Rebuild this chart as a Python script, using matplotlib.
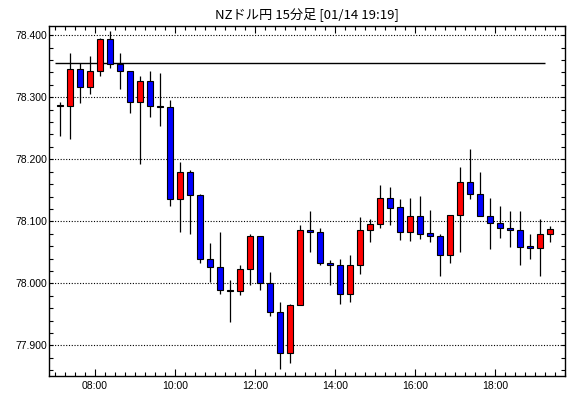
import matplotlib
matplotlib.use("Agg")
import matplotlib.pyplot as plt
from matplotlib.ticker import MultipleLocator, FixedLocator

# 15分足 NZD/JPY
times = ["07:00", "07:15", "07:30", "07:45", "08:00", "08:15", "08:30", "08:45",
         "09:00", "09:15", "09:30", "09:45", "10:00", "10:15", "10:30", "10:45",
         "11:00", "11:15", "11:30", "11:45", "12:00", "12:15", "12:30", "12:45",
         "13:00", "13:15", "13:30", "13:45", "14:00", "14:15", "14:30", "14:45",
         "15:00", "15:15", "15:30", "15:45", "16:00", "16:15", "16:30", "16:45",
         "17:00", "17:15", "17:30", "17:45", "18:00", "18:15", "18:30", "18:45",
         "19:00", "19:15"]
opens = [78.286, 78.286, 78.345, 78.317, 78.342, 78.394, 78.354, 78.342,
         78.292, 78.326, 78.285, 78.284, 78.136, 78.179, 78.142, 78.039,
         78.026, 77.987, 77.987, 78.023, 78.076, 78.000, 77.954, 77.887,
         77.965, 78.086, 78.082, 78.032, 78.029, 77.982, 78.029, 78.086,
         78.095, 78.137, 78.123, 78.083, 78.108, 78.081, 78.076, 78.045,
         78.110, 78.163, 78.144, 78.108, 78.098, 78.090, 78.086, 78.060,
         78.057, 78.079]
highs = [78.293, 78.371, 78.356, 78.367, 78.395, 78.407, 78.371, 78.342,
         78.334, 78.343, 78.339, 78.295, 78.196, 78.182, 78.144, 78.065,
         78.083, 78.005, 78.029, 78.079, 78.076, 78.019, 77.970, 77.967,
         78.094, 78.117, 78.089, 78.037, 78.039, 78.045, 78.107, 78.103,
         78.158, 78.155, 78.136, 78.137, 78.141, 78.118, 78.079, 78.110,
         78.187, 78.216, 78.180, 78.137, 78.124, 78.116, 78.116, 78.079,
         78.103, 78.092]
lows = [78.237, 78.233, 78.291, 78.306, 78.334, 78.348, 78.313, 78.274,
        78.192, 78.269, 78.254, 78.124, 78.082, 78.080, 78.033, 78.002,
        77.983, 77.937, 77.981, 77.998, 77.990, 77.948, 77.862, 77.871,
        77.965, 78.051, 78.029, 77.998, 77.966, 77.970, 78.015, 78.066,
        78.090, 78.094, 78.070, 78.068, 78.071, 78.066, 78.011, 78.033,
        78.051, 78.136, 78.108, 78.056, 78.073, 78.058, 78.030, 78.040,
        78.011, 78.067]
closes = [78.286, 78.345, 78.317, 78.342, 78.394, 78.353, 78.342, 78.292,
          78.326, 78.286, 78.285, 78.136, 78.179, 78.142, 78.039, 78.026,
          77.989, 77.987, 78.023, 78.076, 78.000, 77.954, 77.887, 77.965,
          78.086, 78.082, 78.032, 78.029, 77.982, 78.029, 78.086, 78.095,
          78.137, 78.122, 78.083, 78.108, 78.080, 78.077, 78.045, 78.110,
          78.163, 78.144, 78.108, 78.098, 78.089, 78.086, 78.059, 78.057,
          78.079, 78.087]

ref_level = 78.355
ref_from, ref_to = "07:00", "19:15"


def to_hour(s):
    h, m = s.split(":")
    return int(h) + int(m) / 60


x = [to_hour(t) + 7.5 / 60 for t in times]

fig = plt.figure(figsize=(5.7, 3.98), dpi=100)
ax = fig.add_axes([0.0865, 0.0565, 0.9055, 0.8782])

ax.vlines(x, lows, highs, color="black", lw=0.9, zorder=2)
colors = []
for o, c in zip(opens, closes):
    if c > o:
        colors.append("#ff0000")
    elif c < o:
        colors.append("#0000ff")
    else:
        colors.append("black")
bottoms = [min(o, c) for o, c in zip(opens, closes)]
heights = [max(abs(c - o), 0.0015) for o, c in zip(opens, closes)]
ax.bar(x, heights, bottom=bottoms, width=0.165, color=colors,
       edgecolor="black", lw=0.8, zorder=3)

ax.hlines(ref_level, to_hour(ref_from), to_hour(ref_to), color="black", lw=1.0, zorder=2)

ax.set_xlim(6.8575, 19.76)
ax.set_ylim(77.8513, 78.415)

ax.yaxis.set_major_locator(FixedLocator([77.9, 78.0, 78.1, 78.2, 78.3, 78.4]))
ax.yaxis.set_minor_locator(MultipleLocator(0.02))
ax.set_yticklabels(["77.900", "78.000", "78.100", "78.200", "78.300", "78.400"])
ax.xaxis.set_major_locator(FixedLocator([8, 10, 12, 14, 16, 18]))
ax.xaxis.set_minor_locator(MultipleLocator(0.25))
ax.set_xticklabels(["08:00", "10:00", "12:00", "14:00", "16:00", "18:00"])

for lv in [77.9, 78.0, 78.1, 78.2, 78.3, 78.4]:
    ax.axhline(lv, color="black", lw=0.8, ls=(0, (1, 1.5)), zorder=1)

ax.tick_params(which="both", direction="in", top=True, right=True, width=0.8,
               labelsize=7.5, colors="black")
ax.tick_params(axis="x", which="major", length=5, pad=4)
ax.tick_params(axis="x", which="minor", length=3)
ax.tick_params(axis="y", which="major", length=3, pad=1.5)
ax.tick_params(axis="y", which="minor", length=3)
for lab in ax.get_xticklabels() + ax.get_yticklabels():
    lab.set_family(["Liberation Sans", "DejaVu Sans"])
for sp in ax.spines.values():
    sp.set_linewidth(1.0)

ax.set_title("NZドル円 15分足 [01/14 19:19]", fontsize=9.5, pad=6,
             family=["Noto Sans CJK JP", "DejaVu Sans"])

fig.savefig("out.png", dpi=100)
